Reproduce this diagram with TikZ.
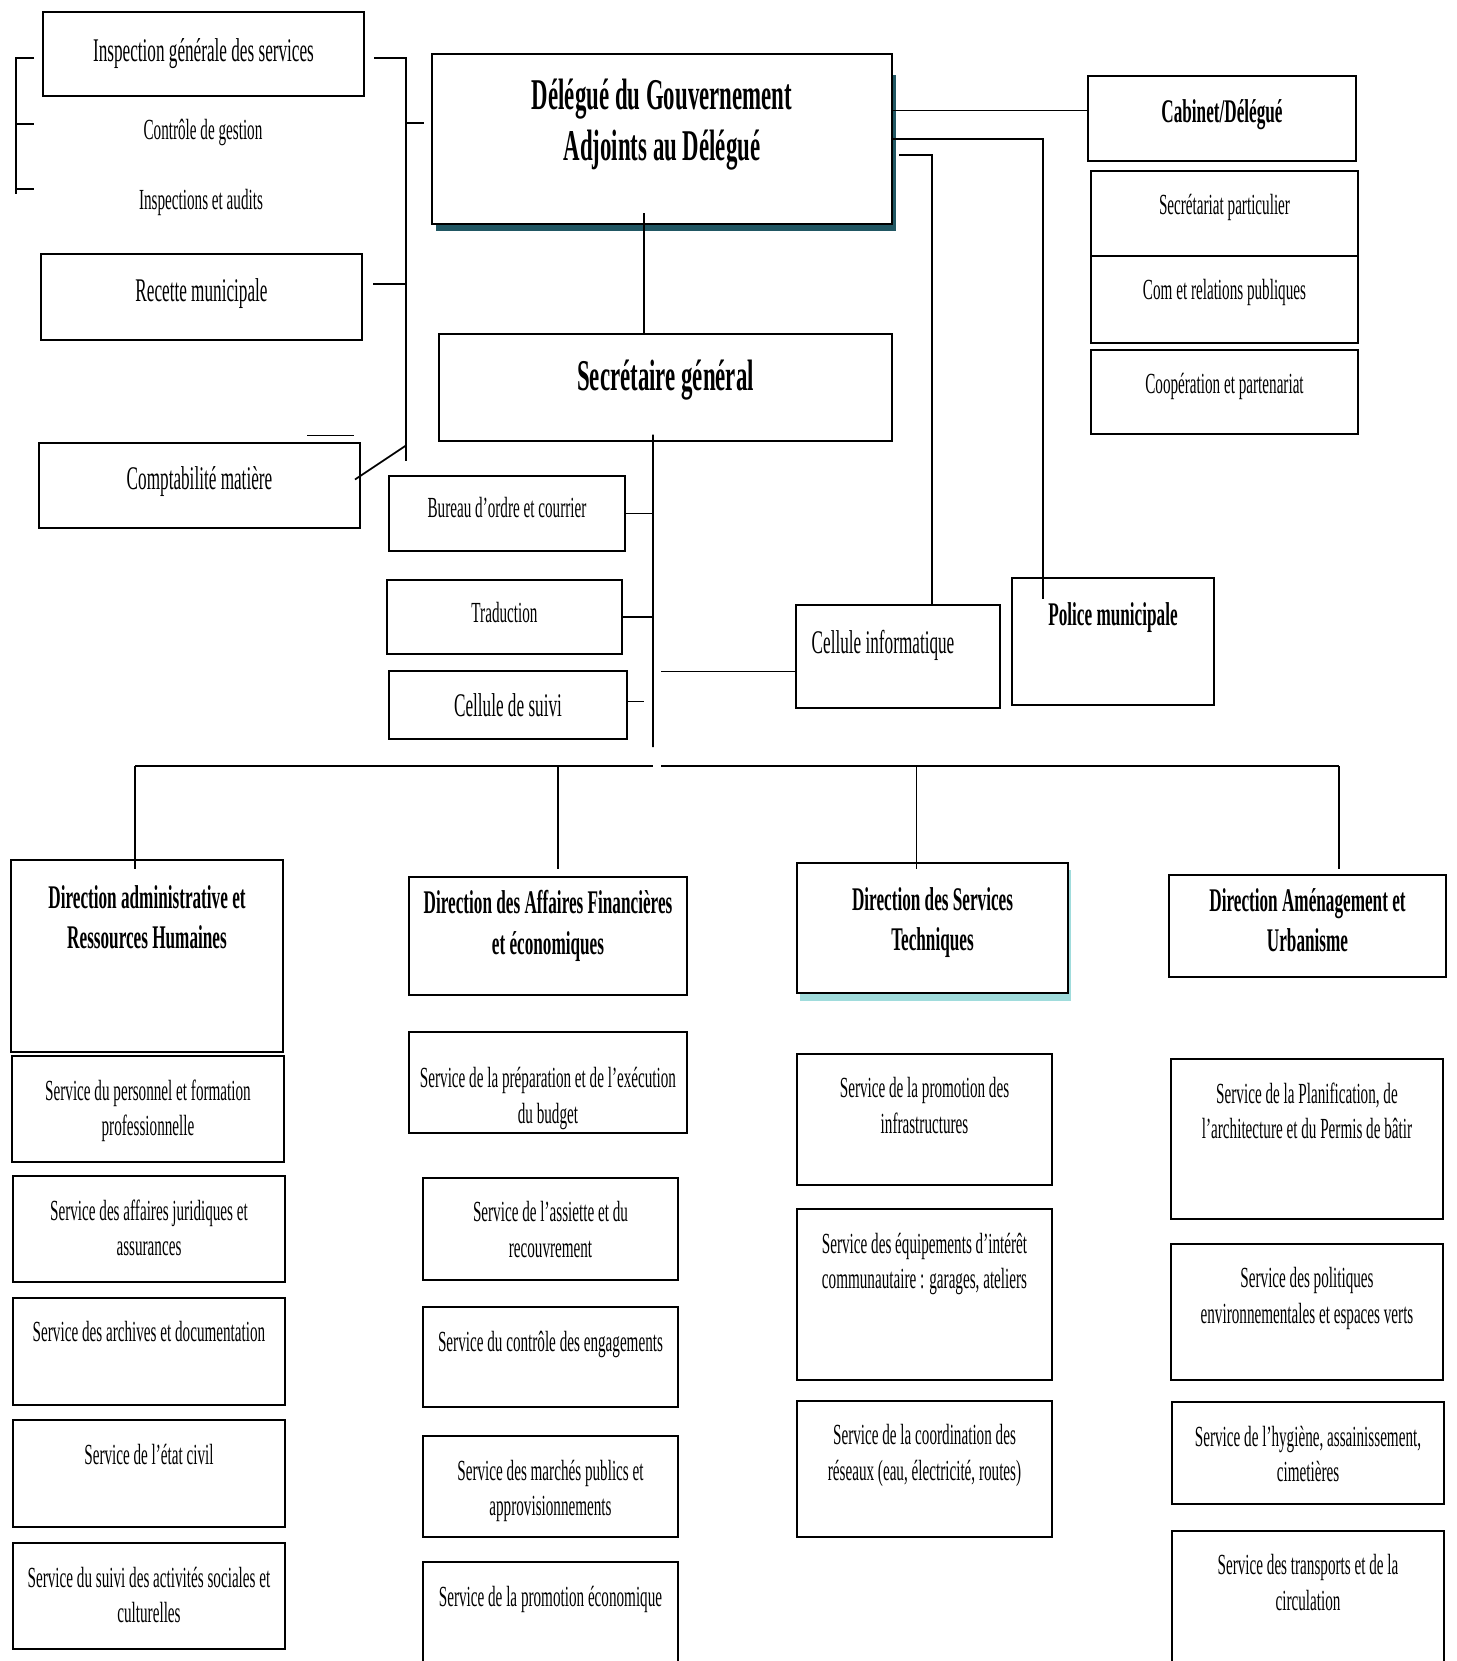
\documentclass[tikz,border=0pt]{standalone}
\usepackage{fontspec}
\setmainfont{Liberation Serif}[FakeStretch=0.52]
\usetikzlibrary{calc}
\definecolor{dgshade}{RGB}{33,87,99}
\definecolor{dstshade}{RGB}{160,220,220}
\tikzset{box/.style={draw, line width=0.75pt, fill=white, anchor=north west,
                     inner sep=0pt, outer sep=0pt},
    conn/.style={line width=0.5pt},
    txts/.style={font=\fontsize{8.3}{10}\selectfont},
    txtm/.style={font=\fontsize{9.4}{11.4}\selectfont},
    txtmb/.style={font=\fontsize{9.4}{11.4}\selectfont\bfseries},
    txtb/.style={font=\fontsize{12.5}{14.5}\selectfont\bfseries},
    intop/.style={anchor=north, align=center, inner sep=0pt, yshift=#1},
    intop/.default=-2.3mm}

\begin{document}
\begin{tikzpicture}[x=0.1mm, y=-0.1mm]
    \useasboundingbox (0,0) rectangle (1456,1661);
    \clip (0,0) rectangle (1456,1661);
    \fill[white] (0,0) rectangle (1456,1661);
    % shadows
    \fill[dgshade] (436,75) rectangle (896,231);
    \fill[dstshade] (800,870) rectangle (1071,1001);

    % left column
    \node[box, txtm, minimum width=32.1mm, minimum height=8.4mm] (insp) at (43,12) {Inspection générale des services};
    \node[txts] (ctrl) at (203,132) {Contrôle de gestion};
    \node[txts] (audit) at (201,202) {Inspections et audits};
    \node[box, txtm, text depth=0.4em, minimum width=32.1mm, minimum height=8.6mm] (recette) at (41,254) {Recette municipale};
    \node[box, txtm, text depth=0.4em, minimum width=32.1mm, minimum height=8.5mm] (compta) at (39,443) {Comptabilité matière};

    % head
    \node[box, minimum width=46mm, minimum height=17mm,
        label={[txtb, intop=-2.4mm]north:{Délégué du Gouvernement\\Adjoints au Délégué}}] (dg) at (432,54) {};
    \node[box, minimum width=45.3mm, minimum height=10.7mm,
        label={[txtb, intop=-2.5mm]north:{Secrétaire général}}] (sg) at (439,334) {};

    % under the secretary
    \node[box, txts, text depth=0.35em, minimum width=23.6mm, minimum height=7.5mm] (bureau) at (389,476) {Bureau d’ordre et courrier};
    \node[box, txts, text depth=0.28em, minimum width=23.5mm, minimum height=7.4mm] (trad) at (387,580) {Traduction};
    \node[box, txtm, minimum width=23.8mm, minimum height=6.8mm] (suivi) at (389,671) {Cellule de suivi};
    \node[box, minimum width=20.4mm, minimum height=10.3mm,
        label={[txtm, anchor=north west, inner sep=0pt, xshift=1.5mm, yshift=-2.5mm]north west:{Cellule informatique}}] (ci) at (796,605) {};
    \node[box, minimum width=20.2mm, minimum height=12.7mm,
        label={[txtmb, intop=-2.4mm]north:{Police municipale}}] (police) at (1012,578) {};

    % cabinet
    \node[box, txtmb, text depth=0.4em, minimum width=26.8mm, minimum height=8.5mm] (cab) at (1088,76) {Cabinet/Délégué};
    \node[box, minimum width=26.7mm, minimum height=8.5mm,
        label={[txts, intop]north:{Secrétariat particulier}}] (sec) at (1091,171) {};
    \node[box, minimum width=26.7mm, minimum height=8.7mm,
        label={[txts, intop]north:{Com et relations publiques}}] (com) at (1091,256) {};
    \node[box, minimum width=26.7mm, minimum height=8.4mm,
        label={[txts, intop]north:{Coopération et partenariat}}] (coop) at (1091,350) {};

    % directions
    \node[box, minimum width=27.2mm, minimum height=19.2mm,
        label={[txtmb, intop=-2.5mm]north:{Direction administrative et\\Ressources Humaines}}] (darh) at (11,860) {};
    \node[box, minimum width=27.8mm, minimum height=11.8mm,
        label={[txtmb, intop=-1.3mm]north:{Direction des Affaires Financières\\et économiques}}] (daf) at (409,877) {};
    \node[box, minimum width=27.1mm, minimum height=13mm,
        label={[txtmb, intop=-2.4mm]north:{Direction des Services\\Techniques}}] (dst) at (797,863) {};
    \node[box, minimum width=27.7mm, minimum height=10.2mm,
        label={[txtmb, intop=-1.3mm]north:{Direction Aménagement et\\Urbanisme}}] (dau) at (1169,875) {};

    % services DARH
    \node[box, minimum width=27.2mm, minimum height=10.6mm,
        label={[txts, intop]north:{Service du personnel et formation\\professionnelle}}] (s11) at (12,1056) {};
    \node[box, minimum width=27.2mm, minimum height=10.6mm,
        label={[txts, intop]north:{Service des affaires juridiques et\\assurances}}] (s12) at (13,1176) {};
    \node[box, minimum width=27.2mm, minimum height=10.7mm,
        label={[txts, intop]north:{Service des archives et documentation}}] (s13) at (13,1298) {};
    \node[box, minimum width=27.2mm, minimum height=10.7mm,
        label={[txts, intop]north:{Service de l’état civil}}] (s14) at (13,1420) {};
    \node[box, minimum width=27.2mm, minimum height=10.6mm,
        label={[txts, intop]north:{Service du suivi des activités sociales et\\culturelles}}] (s15) at (13,1543) {};

    % services DAF
    \node[box, minimum width=27.8mm, minimum height=10.1mm,
        label={[txts, intop=-3.5mm]north:{Service de la préparation et de l’exécution\\du budget}}] (s21) at (409,1032) {};
    \node[box, minimum width=25.5mm, minimum height=10.2mm,
        label={[txts, intop]north:{Service de l’assiette et du\\recouvrement}}] (s22) at (423,1178) {};
    \node[box, minimum width=25.5mm, minimum height=10mm,
        label={[txts, intop]north:{Service du contrôle des engagements}}] (s23) at (423,1307) {};
    \node[box, minimum width=25.5mm, minimum height=10.1mm,
        label={[txts, intop]north:{Service des marchés publics et\\approvisionnements}}] (s24) at (423,1436) {};
    \node[box, minimum width=25.5mm, minimum height=12mm,
        label={[txts, intop]north:{Service de la promotion économique}}] (s25) at (423,1562) {};

    % services DST
    \node[box, minimum width=25.5mm, minimum height=13.1mm,
        label={[txts, intop]north:{Service de la promotion des\\infrastructures}}] (s31) at (797,1054) {};
    \node[box, minimum width=25.5mm, minimum height=17.1mm,
        label={[txts, intop]north:{Service des équipements d’intérêt\\communautaire : garages, ateliers}}] (s32) at (797,1209) {};
    \node[box, minimum width=25.5mm, minimum height=13.6mm,
        label={[txts, intop]north:{Service de la coordination des\\réseaux (eau, électricité, routes)}}] (s33) at (797,1401) {};

    % services DAU
    \node[box, minimum width=27.2mm, minimum height=16mm,
        label={[txts, intop]north:{Service de la Planification, de\\l’architecture et du Permis de bâtir}}] (s41) at (1171,1059) {};
    \node[box, minimum width=27.2mm, minimum height=13.6mm,
        label={[txts, intop]north:{Service des politiques\\environnementales et espaces verts}}] (s42) at (1171,1244) {};
    \node[box, minimum width=27.2mm, minimum height=10.2mm,
        label={[txts, intop]north:{Service de l’hygiène, assainissement,\\cimetières}}] (s43) at (1172,1402) {};
    \node[box, minimum width=27.2mm, minimum height=15mm,
        label={[txts, intop]north:{Service des transports et de la\\circulation}}] (s44) at (1172,1531) {};

    % left bracket and bus
    \coordinate (brk) at (16,194);
    \coordinate (lbus) at (406,461);
    \draw[conn] ($(insp.west)+(-9,4)$) -| (brk);
    \draw[conn] ($(brk |- ctrl)+(0,-8)$) -- ++(18,0);
    \draw[conn] ($(brk |- audit)+(0,-13)$) -- ++(18,0);
    \draw[conn] ($(insp.east)+(10,4)$) -| (lbus);
    \draw[conn] ($(dg.west -| lbus)+(0,-16)$) -- ($(dg.west)+(-8,-16)$);
    \draw[conn] ($(recette.east)+(11,-13)$) -- ($(recette.east -| lbus)+(0,-13)$);
    \draw[conn] ($(compta.east)+(-5,-6)$) -- ($(compta.east -| lbus)+(0,-40)$);
    \draw[conn] ($(compta.north east)+(-53,-7.5)$) -- ($(compta.north east)+(-6,-7.5)$);

    % head links
    \draw[conn] ($(dg.south)+(-18,-11)$) -- ($(sg.north)+(-21.5,0)$);
    \draw[conn] ($(cab.west)+(0,-8)$) -- ($(dg.east |- cab.west)+(0,-8)$);
    \draw[conn] (dg.east) -| ($(police.north west)+(31,21)$);
    \draw[conn] ($(dg.east)+(7,16)$) -| ($(ci.north)+(34,0)$);

    % secretary bus
    \coordinate (sgbus) at (653,747);
    \draw[conn] ($(sg.south)+(-12.5,-6.5)$) -- (sgbus);
    \draw[conn] (bureau.east) -- (bureau.east -| sgbus);
    \draw[conn] (trad.east) -- (trad.east -| sgbus);
    \draw[conn] ($(suivi.east)+(0,-3.5)$) -- ++(17,0);
    \draw[conn] ($(ci.west)+(0,15)$) -- ($(sgbus |- ci.west)+(8,15)$);

    % directions bus
    \coordinate (bl) at (135,766);
    \coordinate (br) at (1339,766);
    \draw[conn] (bl) -- (sgbus |- bl);
    \draw[conn] ($(sgbus |- br)+(8,0)$) -- (br);
    \draw[conn] (bl) -- ($(darh.north -| bl)+(0,9)$);
    \draw[conn] ($(daf.north)+(10,-111)$) -- ($(daf.north)+(10,-8)$);
    \draw[conn] ($(dst.north)+(-16,-97)$) -- ($(dst.north)+(-16,6)$);
    \draw[conn] (br) -- ($(dau.north -| br)+(0,-6)$);
\end{tikzpicture}
\end{document}
